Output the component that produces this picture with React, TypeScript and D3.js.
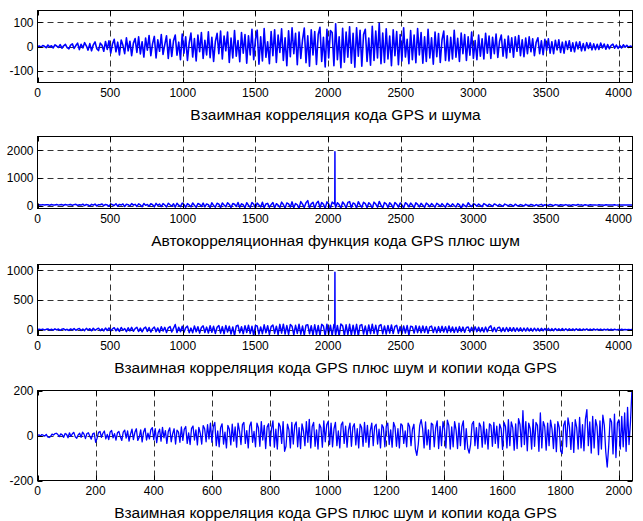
import React from 'react';
import * as d3 from 'd3';

const W = 643;
const H = 521;

// ---- tick labels ----
const xTicksLong = [0, 500, 1000, 1500, 2000, 2500, 3000, 3500, 4000];
const xTicksShort = [0, 200, 400, 600, 800, 1000, 1200, 1400, 1600, 1800, 2000];
const yTicks1 = [-100, 0, 100];
const yTicks2 = [0, 1000, 2000];
const yTicks3 = [0, 500, 1000];
const yTicks4 = [-200, 0, 200];

const titles = [
  'Взаимная корреляция кода GPS и шума',
  'Автокорреляционная функция кода GPS плюс шум',
  'Взаимная корреляция кода GPS плюс шум и копии кода GPS',
  'Взаимная корреляция кода GPS плюс шум и копии кода GPS',
];

const LAG_STEP_LONG = 12;
const LAG_STEP_SHORT = 5;

// ---- series 1: cross-correlation GPS code x noise (lags 0..4095) ----
const xcorrNoise = [
  0, 2, -3, 4, 1, -5, 6, -2, 3, -6, 7, 2, -4, 8, -7, 3, 9, -5, -10, 6,
  11, -8, 4, 14, -13, 9, -6, 16, 3, -15, 12, -18, 7, 19, -9, -17, 14, 5, -20, 21,
  -12, 24, -28, 10, 30, -22, 18, -35, 27, 5, -30, 36, -18, 22, -38, 14, 33, -25, 40, -31,
  20, -44, 35, -15, 46, -38, 12, 42, -48, 28, -20, 50, -33, 8, 45, -50, 30, -41, 24, 48,
  -36, 18, -55, 52, -28, 40, -58, 15, 56, -44, 33, -60, 48, -22, 58, -50, 26, -35, 61, -47,
  38, -62, 20, 55, -30, 64, -52, 44, -18, 60, -66, 35, -48, 66, -40, 25, -63, 58, -28, 50,
  -70, 45, -35, 72, -55, 30, 68, -74, 40, -60, 75, -45, 20, -72, 62, -38, 70, -66, 48, -25,
  74, -58, 36, -80, 65, -42, 78, -30, 55, -76, 60, -50, 28, 77, -68, 45, -82, 70, -35, 62,
  -75, 50, 80, -62, 38, -85, 72, -48, 66, 58, -80, 95, -55, 40, -88, 76, -65, 60, -45, 82,
  -70, 55, -86, 78, -40, 68, -82, 50, 72, -62, 35, -78, 84, -58, 64, -48, 97, -72, 56, -66,
  74, -52, 44, -80, 70, -38, 62, -76, 50, -60, 78, -44, 30, -72, 66, -55, 48, -68, 75, -35,
  58, -70, 40, -62, 72, -48, 36, -74, 60, -42, 54, -66, 28, 64, -58, 45, -60, 38, -52, 68,
  -45, 34, -62, 56, -30, 50, -58, 40, -36, 60, -50, 25, -55, 48, -40, 32, -52, 55, -28, 44,
  -50, 38, -30, 52, -46, 22, 48, -40, 30, -48, 44, -25, 36, -45, 40, -20, 46, -38, 28, -42,
  35, -30, 40, -22, 32, -38, 18, 36, -30, 24, -34, 30, -16, 32, -28, 20, -30, 26, -14, 28,
  -25, 18, -28, 22, -12, 24, -20, 15, -22, 19, -10, 20, -18, 12, -17, 16, -8, 15, -14, 11,
  -13, 9, -12, 14, -6, 10, -11, 8, -9, 5, 10, -7, 6, -8, 4, -6, 7, -3, 5, -4,
  2, -1,
];

// ---- series 2: autocorrelation GPS code + noise ----
const autocorrNoise = [
  30, 35, 28, 40, 25, 38, 32, 20, 42, 30, 26, 45, 22, 36, 40, 18, 44, 28, 34, 48,
  15, 40, 52, 10, 38, 24, 55, 5, 46, 30, -10, 50, 20, 58, -5, 40, 35, 62, 0, 45,
  28, -20, 60, 35, 10, 70, -15, 48, 25, 65, -30, 55, 40, -10, 75, 20, 50, -25, 68, 30,
  -35, 80, 15, 45, -20, 72, 38, -40, 85, 10, 60, -30, 78, 25, -45, 90, 35, -15, 70, -50,
  88, 20, -35, 95, 45, -55, 75, 30, -40, 100, 15, -60, 82, 50, -25, 96, -45, 65, 40, -65,
  105, 10, -50, 88, 60, -70, 98, 25, -40, 110, 45, -65, 80, 55, -30, 115, -55, 70, 35, -75,
  108, 20, -60, 120, 50, -80, 95, 30, -45, 125, -70, 60, 85, -55, 40, 118, -85, 75, 20, -60,
  130, 45, -90, 100, 65, -50, 140, -75, 80, 35, -95, 150, 55, -65, 110, 185, -80, 70, 125, -100,
  90, 160, -70, 120, 50, -95, 140, 60, -85, 130, 75, -60, 110, 40, -90, 135, 55, -80, 120, 150,
  -70, 100, 65, -85, 145, 30, -60, 125, 80, -75, 110, 45, -90, 130, 60, -55, 155, 20, -80, 115,
  70, -65, 105, 40, -85, 120, 55, -50, 100, 30, -75, 110, 60, -45, 95, 25, -70, 105, 50, -40,
  85, 20, -60, 95, 45, -35, 80, 15, -55, 90, 40, -30, 75, 10, -50, 85, 35, -25, 70, 5,
  -45, 80, 30, -95, 65, 0, -40, 110, 25, -30, 70, 45, -20, 60, 10, -35, 75, 40, -15, 55,
  20, -25, 65, 35, -10, 50, 15, -20, 60, 30, -5, 45, 25, -15, 55, 10, 0, 40, 20, -10,
  50, 15, 5, 45, 25, -5, 40, 10, 30, 50, 0, 35, 20, 15, 45, 25, 5, 40, 30, 10,
  35, 25, 15, 40, 20, 30, 10, 38, 28, 18, 42, 22, 32, 12, 36, 26, 20, 34, 24, 30,
  28, 22, 32, 26, 30, 20, 34, 24, 28, 30, 26, 32, 22, 28, 30, 26, 28, 24, 30, 27,
  28, 26,
];
const autocorrPeakLags = [2046, 2047, 2048];
const autocorrPeakValues = [60, 1950, 40];

// ---- series 3: cross-correlation GPS+noise x GPS replica ----
const xcorrReplica = [
  0, 5, -3, 8, -6, 4, 10, -8, 6, -10, 12, -5, 9, -12, 7, 14, -9, 5, -14, 11,
  -6, 16, -12, 8, 18, -15, 10, -18, 20, -8, 15, -20, 22, -12, 6, 24, -18, 14, -22, 26,
  -15, 28, -25, 12, 32, -20, 22, -30, 35, -10, 18, -35, 30, -22, 38, -28, 15, 40, -32, 25,
  -38, 20, 42, -30, 35, -42, 15, 45, -35, 28, -45, 48, -25, 38, -48, 30, 52, -40, 22, 85,
  -50, 40, -35, 55, -45, 30, 58, -52, 25, -55, 60, -38, 48, -60, 35, 62, -50, 42, -58, 65,
  -45, 55, -65, 40, 70, -60, 50, -70, 68, -40, 58, -75, 45, -100, 62, 72, -55, 48, -72, 66,
  -50, 75, -68, 55, -100, 70, 60, -78, 45, -70, 80, -55, 65, -82, 50, 78, -65, 58, -85, 88,
  -60, 92, -75, 68, -80, 85, 55, -88, 72, -65, 90, -78, 60, -92, 75, 82, -70, 65, -95, 80,
  -85, 70, -100, 88, 60, -105, 92, -80, 75, -100, 85, -90, 70, -110, 95, 65, -100, 80, -85, 90,
  -95, 75, -80, 88, -110, 70, 85, -75, 60, -90, 78, -70, 92, -65, 72, -80, 68, 85, -72, 60,
  -75, 70, -60, 78, -68, 55, 72, -65, 50, -70, 62, -58, 68, -95, 55, 48, -60, 65, -52, 58,
  -55, 60, -48, 52, -62, 45, 58, -50, 42, -55, 50, -45, 55, -40, 48, -52, 62, -42, 45, -48,
  40, -45, 50, -38, 42, -46, 36, 44, -40, 38, -42, 46, -35, 40, -38, 34, -40, 42, -36, 38,
  65, -34, 36, -38, 32, 40, -35, 30, -32, 36, -30, 34, -28, 32, -30, 28, -26, 30, -28, 26,
  -25, 28, -24, 22, -26, 24, -22, 20, -24, 22, -20, 18, -22, 20, -18, 16, -20, 18, -16, 15,
  -14, 16, -15, 13, -14, 15, -12, 11, -13, 12, -10, 11, -12, 10, -9, 11, -10, 8, -9, 10,
  -8, 9, -7, 8, -9, 6, -7, 8, -6, 5, -7, 6, -5, 4, -6, 5, -4, 3, -4, 3,
  -2, 1,
];
const replicaPeakLags = [2046, 2047, 2048];
const replicaPeakValues = [30, 970, -20];

// ---- series 4: cross-correlation, lags 0..2047 ----
const xcorrShort = [
  0, 3, -2, 4, 1, -3, 5, -6, -9, -4, 6, 2, 8, 10, 4, -5, 7, 3, -8, 9,
  5, -10, 12, -4, 8, 14, -6, -12, 3, 10, -8, 15, 6, -14, 9, 12, -3, -16, 7, 11,
  -30, -12, 14, 18, -8, 10, 20, -15, 5, -18, 16, 22, -10, 8, -20, 12, 18, -6, -22, 15,
  24, -12, 20, -25, 6, 28, -18, 14, 30, -22, -8, 25, -28, 16, 32, -20, 10, -15, 26, 35,
  -18, 30, -32, 12, 28, -25, 36, -10, 22, -35, 18, 34, -28, 8, 30, -38, 24, 15, -30, 38,
  -22, 28, 40, -35, 12, -40, 32, 42, -20, 25, -42, 36, 10, -38, 44, 30, -28, 48, -15, 55,
  -30, 40, 58, -45, 20, -50, 35, 52, -38, 15, -55, 45, 28, -42, 50, -25, 38, -52, 55, 20,
  -40, 48, 58, -35, 22, -55, 42, 60, -30, 18, -50, 55, 35, -48, 62, -20, 45, -58, 38, 52,
  -45, 30, 65, -52, 28, -60, 55, 40, -35, 62, -70, -48, 50, 25, -55, 58, -38, 45, 60, -50,
  35, -58, 52, 20, -45, 62, -30, 72, -55, 40, 58, -48, 25, -60, 50, 35, -52, 65, -28, 48,
  62, -40, 55, -50, 30, 58, -45, 20, -55, 48, 60, -35, 42, -52, 25, 55, -48, 38, 52, -42,
  30, -55, 50, 35, -48, 58, -30, 45, -52, 22, 55, -45, 40, 50, -38, 28, -55, 48, 35, -50,
  42, 55, -40, 25, -52, 58, 38, -48, 30, -55, 52, 45, -35, 20, -50, 55, 40, -45, 28, 50,
  -60, -88, -40, 45, 70, 30, -55, 60, -42, 25, -62, 55, 48, -50, 35, 65, -58, 40, -45, 62,
  30, -55, 68, 45, -60, 38, -50, 62, 25, -58, 55, -45, 40, 65, -62, 30, -55, -78, -40, 50,
  62, -45, 35, -58, 55, 40, -52, 60, -38, 28, -60, 52, 45, -48, 58, -35, 42, -55, 50, 30,
  -62, 58, 40, -55, 70, -45, 60, 35, -65, 52, -58, 75, 48, -50, 110, -40, 62, -68, 55, 30,
  -60, 72, -48, 58, 45, -70, 100, -55, 62, 40, -65, 55, -45, 68, 30, -58, 50, -72, 62, 35,
  -70, -80, 45, 65, -50, 78, 40, -62, 58, -75, 70, 35, -60, 80, -55, 48, -68, 72, 115, -45,
  60, -78, 85, -55, 70, 40, -85, 65, -60, 90, 45, -72, -140, -50, 75, 60, -82, 95, -98, 55,
  70, -60, 85, -50, 100, -70, 125, -40, 60, 200,
];

type Pt = [number, number];

function toPoints(values: number[], step: number, extraLags: number[] = [], extraValues: number[] = []): Pt[] {
  const pts: Pt[] = values.map((v, i) => [i * step, v] as Pt);
  extraLags.forEach((l, i) => pts.push([l, extraValues[i]]));
  return pts.sort((a, b) => a[0] - b[0]);
}

const FONT = "'Liberation Sans', Arial, sans-serif";
const LEFT = 37.5;
const RIGHT = 632.5;

interface PanelProps {
  id: string;
  points: Pt[];
  xDomain: [number, number];
  yDomain: [number, number];
  xTicks: number[];
  yTicks: number[];
  top: number;
  bottom: number;
  title: string;
  lineWidth: number;
}

function Panel({ id, points, xDomain, yDomain, xTicks, yTicks, top, bottom, title, lineWidth }: PanelProps) {
  const x = d3.scaleLinear().domain(xDomain).range([LEFT, RIGHT]);
  const y = d3.scaleLinear().domain(yDomain).range([bottom, top]);
  const line = d3.line<Pt>().x((d) => x(d[0])).y((d) => y(d[1]));
  const tickLen = 5;
  const gridStyle = { stroke: '#000', strokeWidth: 0.8, strokeDasharray: '6,4' };
  return (
    <g>
      <defs>
        <clipPath id={id}>
          <rect x={LEFT} y={top} width={RIGHT - LEFT} height={bottom - top} />
        </clipPath>
      </defs>
      <rect x={LEFT} y={top} width={RIGHT - LEFT} height={bottom - top} fill="#fff" />
      {xTicks.filter((t) => x(t) > LEFT + 1 && x(t) < RIGHT - 1).map((t) => (
        <line key={'gx' + t} x1={Math.round(x(t)) + 0.5} x2={Math.round(x(t)) + 0.5} y1={top} y2={bottom} style={gridStyle} />
      ))}
      {yTicks.filter((t) => y(t) > top + 1 && y(t) < bottom - 1).map((t) => (
        <line key={'gy' + t} x1={LEFT} x2={RIGHT} y1={Math.round(y(t)) + 0.5} y2={Math.round(y(t)) + 0.5} style={gridStyle} />
      ))}
      <path d={line(points) || ''} fill="none" stroke="#0000ff" strokeWidth={lineWidth} strokeLinejoin="round" clipPath={`url(#${id})`} />
      <rect x={LEFT} y={top} width={RIGHT - LEFT} height={bottom - top} fill="none" stroke="#000" strokeWidth={1} />
      {xTicks.map((t) => {
        const px = Math.round(x(t)) + 0.5;
        return (
          <g key={'tx' + t}>
            <line x1={px} x2={px} y1={bottom} y2={bottom - tickLen} stroke="#000" />
            <line x1={px} x2={px} y1={top} y2={top + tickLen} stroke="#000" />
            <text x={x(t)} y={bottom + 14.5} textAnchor="middle" fontSize={12} fontFamily={FONT} fill="#000">{t}</text>
          </g>
        );
      })}
      {yTicks.map((t) => {
        const py = Math.round(y(t)) + 0.5;
        return (
          <g key={'ty' + t}>
            <line x1={LEFT} x2={LEFT + tickLen} y1={py} y2={py} stroke="#000" />
            <line x1={RIGHT} x2={RIGHT - tickLen} y1={py} y2={py} stroke="#000" />
            <text x={LEFT - 4} y={y(t) + 4.3} textAnchor="end" fontSize={12} fontFamily={FONT} fill="#000">{t}</text>
          </g>
        );
      })}
      <text x={335.5} y={bottom + 37} textAnchor="middle" fontSize={15.5} fontFamily={FONT} fill="#000">{title}</text>
    </g>
  );
}

export default function App() {
  const p1 = toPoints(xcorrNoise, LAG_STEP_LONG);
  const p2 = toPoints(autocorrNoise, LAG_STEP_LONG, autocorrPeakLags, autocorrPeakValues);
  const p3 = toPoints(xcorrReplica, LAG_STEP_LONG, replicaPeakLags, replicaPeakValues);
  const p4 = toPoints(xcorrShort, LAG_STEP_SHORT);
  return (
    <svg width={W} height={H} style={{ position: 'absolute', left: 0, top: 0, background: '#fff' }}>
      <rect x={0} y={0} width={W} height={H} fill="#fff" />
      <Panel id="c1" points={p1} xDomain={[0, 4095]} yDomain={[-150, 150]} xTicks={xTicksLong} yTicks={yTicks1} top={10.5} bottom={82.5} title={titles[0]} lineWidth={1.6} />
      <Panel id="c2" points={p2} xDomain={[0, 4095]} yDomain={[-100, 2500]} xTicks={xTicksLong} yTicks={yTicks2} top={136.5} bottom={208.5} title={titles[1]} lineWidth={1.5} />
      <Panel id="c3" points={p3} xDomain={[0, 4095]} yDomain={[-100, 1100]} xTicks={xTicksLong} yTicks={yTicks3} top={264.5} bottom={335.5} title={titles[2]} lineWidth={1.5} />
      <Panel id="c4" points={p4} xDomain={[0, 2047]} yDomain={[-200, 200]} xTicks={xTicksShort} yTicks={yTicks4} top={390.5} bottom={480.5} title={titles[3]} lineWidth={1.3} />
    </svg>
  );
}
